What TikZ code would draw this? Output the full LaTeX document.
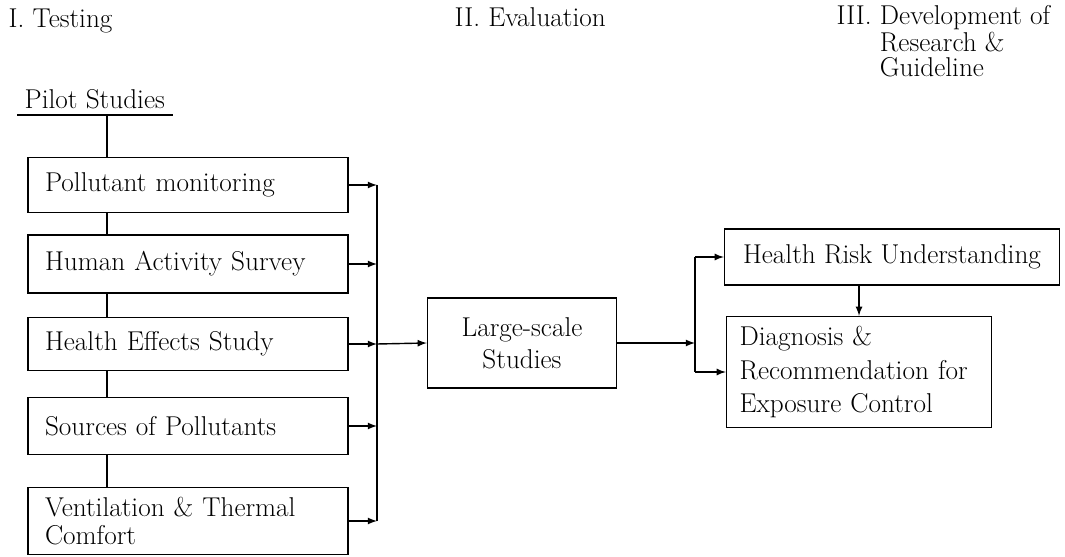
\documentclass[tikz,border=0pt]{standalone}
\usepackage{fontspec}
\usepackage{tikz}
\usetikzlibrary{arrows}

\begin{document}
\begin{tikzpicture}[x=0.02cm, y=-0.02cm, >=latex, line width=0.8pt,
    font=\fontsize{15.5}{16}\selectfont,
    box/.style={draw, inner xsep=0.34cm, align=left}]
      \path[use as bounding box] (0, 0) rectangle (1065, 557);

      % headings
      \node[anchor=west, inner sep=0pt] (ttest) at (8, 21) {I. Testing};
      \node[anchor=west, inner sep=0pt] (teval) at (454, 17) {II. Evaluation};
      \node[anchor=north west, inner sep=0pt, font=\fontsize{15.5}{13}\selectfont] (tdev) at (836, 5)
        {\begin{tabular}{@{}l@{ }l@{}}III. & Development of\\
          & Research \&\\ & Guideline\end{tabular}};

      \node[anchor=south west, inner xsep=4pt, inner ysep=3pt] (pilot) at (17, 115) {Pilot Studies};
      \draw (pilot.south west) -- (pilot.south east);

      \coordinate (spine) at (107, 0);
      \coordinate (bus) at (377, 0);
      \coordinate (bus2) at (695, 0);

      \begin{scope}
        \foreach \nm/\yy/\hh/\txt in {pm/185/1.1/Pollutant monitoring,
                                      has/264/1.16/Human Activity Survey,
                                      hes/344/1.06/Health Effects Study,
                                      sop/426/1.14/Sources of Pollutants,
                                      vtc/521/1.34/Ventilation \& Thermal\\Comfort} {
          \node[box, text width=5.72cm, minimum height=\hh cm] (\nm) at (188, \yy) {\txt};
          \draw[->] (\nm.east) -- (\nm.east -| bus);
        }
        \draw (pilot.south -| spine) -- (pm.north -| spine);
        \foreach \a/\b in {pm/has, has/hes, hes/sop, sop/vtc} {
          \draw (\a.south -| spine) -- (\b.north -| spine);
        }
        \draw (pm.east -| bus) -- (vtc.east -| bus);
      \end{scope}

      \node[draw, minimum width=3.78cm, minimum height=1.8cm, align=center,
        font=\fontsize{15.5}{18}\selectfont] (lss) at (522, 343) {Large-scale\\Studies};
      \draw[->] (hes.east -| bus) -- (lss.west);
      \draw[->] (lss.east) -- (lss.east -| bus2);

      \begin{scope}
        \node[box, inner xsep=0.2cm, minimum width=6.7cm, minimum height=1.12cm] (hru) at (892, 257) {Health Risk Understanding};
        \node[box, inner xsep=0.26cm, text width=4.78cm, minimum height=2.22cm,
          font=\fontsize{15.5}{19}\selectfont] (dre) at (859, 372)
          {Diagnosis \&\\Recommendation for\\Exposure Control};
        \draw (hru.west -| bus2) -- (dre.west -| bus2);
        \draw[->] (hru.west -| bus2) -- (hru.west);
        \draw[->] (dre.west -| bus2) -- (dre.west);
        \draw[->] (hru.south -| dre.north) -- (dre.north);
      \end{scope}
    \end{tikzpicture}
\end{document}
